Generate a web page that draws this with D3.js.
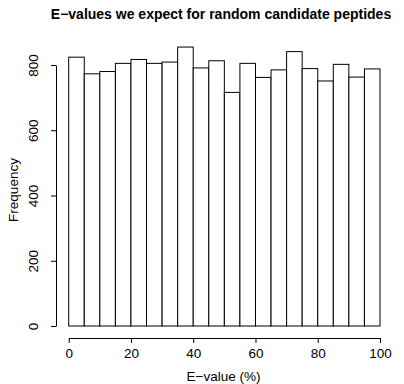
<!DOCTYPE html>
<html>
<head>
<meta charset="utf-8">
<script src="https://cdn.jsdelivr.net/npm/d3@7"></script>
<style>
  html, body { margin: 0; padding: 0; background: #fff; }
  svg { display: block; }
  text { font-family: "Liberation Sans", Arial, Helvetica, sans-serif; fill: #000; }
</style>
</head>
<body>
<svg id="chart" width="404" height="384"></svg>
<script>
// Histogram of E-values (%) in bins of width 5
const binEdges = [0, 5, 10, 15, 20, 25, 30, 35, 40, 45, 50, 55, 60, 65, 70, 75, 80, 85, 90, 95, 100];
const counts = [824, 773, 780, 805, 817, 805, 809, 855, 791, 813, 716, 805, 762, 785, 841, 789, 751, 802, 763, 788];
const xTicks = [0, 20, 40, 60, 80, 100];
const yTicks = [0, 200, 400, 600, 800];

const titleText = "E\u2212values we expect for random candidate peptides";
const xLabel = "E\u2212value (%)";
const yLabel = "Frequency";

const svg = d3.select("#chart");

const x = d3.scaleLinear().domain([0, 100]).range([68.7, 380]);
const y = d3.scaleLinear().domain([0, 800]).range([326, 65]);

const bins = counts.map((c, i) => ({ x0: binEdges[i], x1: binEdges[i + 1], count: c }));

// bars
svg.append("g")
  .selectAll("rect")
  .data(bins)
  .join("rect")
  .attr("x", d => x(d.x0))
  .attr("y", d => y(d.count))
  .attr("width", d => x(d.x1) - x(d.x0))
  .attr("height", d => y(0) - y(d.count))
  .attr("fill", "#fff")
  .attr("stroke", "#000")
  .attr("stroke-width", 1);

// x axis, offset below the bars
const xAxis = svg.append("g")
  .attr("transform", "translate(0,338)")
  .call(d3.axisBottom(x).tickValues(xTicks).tickFormat(d3.format("d")).tickSize(5).tickSizeOuter(0));
xAxis.selectAll(".tick text")
  .attr("y", 20).attr("dy", null)
  .style("font-size", "13.5px");

// y axis, offset left of the bars, with labels parallel to the axis
const yAxis = svg.append("g")
  .attr("transform", "translate(56,0)")
  .call(d3.axisLeft(y).tickValues(yTicks).tickFormat(d3.format("d")).tickSize(5).tickSizeOuter(0));
yAxis.selectAll(".tick text")
  .attr("x", 0).attr("y", -18).attr("dy", null)
  .attr("transform", "rotate(-90)")
  .attr("text-anchor", "middle")
  .style("font-size", "13.5px");

svg.selectAll(".domain, .tick line").attr("stroke", "#000").attr("stroke-width", 1);
svg.selectAll("g").attr("font-family", null).attr("font-size", null);

// titles
svg.append("text")
  .attr("x", 221).attr("y", 19)
  .attr("text-anchor", "middle")
  .style("font-size", "14px").style("font-weight", "bold")
  .text(titleText);

svg.append("text")
  .attr("x", 223.5).attr("y", 381)
  .attr("text-anchor", "middle")
  .style("font-size", "13.5px")
  .text(xLabel);

svg.append("text")
  .attr("transform", "translate(18,190) rotate(-90)")
  .attr("text-anchor", "middle")
  .style("font-size", "13.5px")
  .text(yLabel);
</script>
</body>
</html>
